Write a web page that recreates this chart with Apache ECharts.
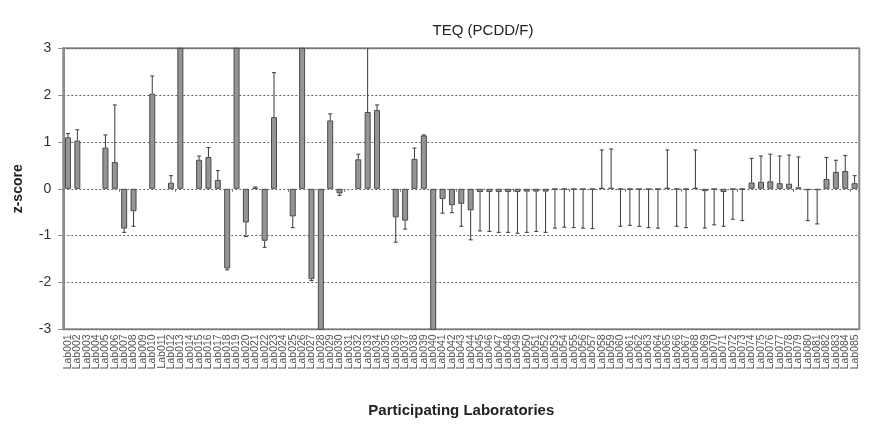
<!DOCTYPE html>
<html><head><meta charset="utf-8">
<script src="https://cdn.jsdelivr.net/npm/echarts@6/dist/echarts.min.js"></script>
<style>html,body{margin:0;padding:0;background:#fff}#c{width:869px;height:428px}</style>
</head><body><div id="c"></div>
<script>
const labs = [
 "Lab001","Lab002","Lab003","Lab004","Lab005","Lab006","Lab007","Lab008","Lab009","Lab010",
 "Lab011","Lab012","Lab013","Lab014","Lab015","Lab016","Lab017","Lab018","Lab019","Lab020",
 "Lab021","Lab022","Lab023","Lab024","Lab025","Lab026","Lab027","Lab028","Lab029","Lab030",
 "Lab031","Lab032","Lab033","Lab034","Lab035","Lab036","Lab037","Lab038","Lab039","Lab040",
 "Lab041","Lab042","Lab043","Lab044","Lab045","Lab046","Lab047","Lab048","Lab049","Lab050",
 "Lab051","Lab052","Lab053","Lab054","Lab055","Lab056","Lab057","Lab058","Lab059","Lab060",
 "Lab061","Lab062","Lab063","Lab064","Lab065","Lab066","Lab067","Lab068","Lab069","Lab070",
 "Lab071","Lab072","Lab073","Lab074","Lab075","Lab076","Lab077","Lab078","Lab079","Lab080",
 "Lab081","Lab082","Lab083","Lab084","Lab085"
];
// z-scores (values beyond +/-3 are cut off by the axis)
const zScores = [
 1.10, 1.03, null, null, 0.88, 0.57, -0.85, -0.48, null, 2.03,
 null, 0.13, 4.2, null, 0.62, 0.68, 0.19, -1.70, 4.5, -0.72,
 0.02, -1.11, 1.53, null, -0.59, 4.0, -1.93, -4.0, 1.46, -0.10,
 null, 0.63, 1.64, 1.68, null, -0.61, -0.68, 0.64, 1.14, -4.0,
 -0.22, -0.35, -0.32, -0.46, -0.07, -0.07, -0.07, -0.07, -0.07, -0.06,
 -0.06, -0.06, -0.01, -0.01, -0.01, -0.01, -0.01, 0.02, 0.02, -0.01,
 -0.01, -0.01, -0.01, -0.01, 0.02, -0.01, -0.01, 0.02, -0.05, -0.01,
 -0.07, -0.01, -0.01, 0.135, 0.15, 0.16, 0.12, 0.11, 0.03, -0.03,
 -0.03, 0.21, 0.36, 0.38, 0.12
];
// end point of each error bar (drawn away from zero)
const errorEnds = [
 1.18, 1.26, null, null, 1.15, 1.79, -0.93, -0.80, null, 2.41,
 null, 0.28, null, null, 0.70, 0.88, 0.39, -1.73, null, -1.02,
 0.04, -1.25, 2.48, null, -0.83, null, -1.96, null, 1.60, -0.14,
 null, 0.74, 3.6, 1.79, null, -1.14, -0.86, 0.87, 1.15, null,
 -0.52, -0.51, -0.80, -1.09, -0.90, -0.91, -0.93, -0.93, -0.95, -0.93,
 -0.91, -0.93, -0.84, -0.82, -0.83, -0.84, -0.85, 0.83, 0.85, -0.80,
 -0.78, -0.80, -0.83, -0.84, 0.83, -0.80, -0.83, 0.83, -0.84, -0.77,
 -0.80, -0.65, -0.68, 0.65, 0.70, 0.74, 0.70, 0.72, 0.68, -0.68,
 -0.75, 0.67, 0.61, 0.71, 0.28
];
const yMin = -3, yMax = 3, yStep = 1;

const FONT = '"Liberation Sans", Arial, sans-serif';
const errData = [];
labs.forEach((l, i) => {
  if (zScores[i] !== null && errorEnds[i] !== null) errData.push([i, zScores[i], errorEnds[i]]);
});

const chart = echarts.init(document.getElementById('c'), null, {renderer: 'canvas'});
chart.setOption({
  animation: false,
  backgroundColor: '#fff',
  title: {
    text: 'TEQ (PCDD/F)', left: 478, top: 18, textAlign: 'center',
    textStyle: {fontFamily: FONT, fontSize: 15, fontWeight: 'normal', color: '#222'}
  },
  grid: {left: 63.3, right: 9.7, top: 48.3, bottom: 98.7, show: true,
         borderColor: '#8a8a8a', borderWidth: 2, backgroundColor: 'transparent'},
  xAxis: [{
    type: 'category', data: labs, position: 'bottom',
    axisLine: {show: false, onZero: false},
    axisTick: {show: false},
    axisLabel: {interval: 0, rotate: 90, fontFamily: FONT, fontSize: 10.5, color: '#555', margin: 5},
    name: 'Participating Laboratories', nameLocation: 'middle', nameGap: 74,
    nameTextStyle: {fontFamily: FONT, fontSize: 15, fontWeight: 'bold', color: '#222'}
  }, {
    type: 'category', data: labs, position: 'top',
    axisLine: {show: false, onZero: true},
    axisTick: {show: true, inside: true, length: 3, lineStyle: {color: '#777'}},
    axisLabel: {show: false}
  }],
  yAxis: {
    type: 'value', min: yMin, max: yMax, interval: yStep,
    axisLine: {show: true, lineStyle: {color: '#8a8a8a', width: 2}},
    axisTick: {show: true, length: 5, lineStyle: {color: '#8a8a8a'}},
    axisLabel: {fontFamily: FONT, fontSize: 14, color: '#333', margin: 12},
    splitLine: {show: true, lineStyle: {color: '#666', type: [2, 2], width: 1}},
    name: 'z-score', nameLocation: 'middle', nameGap: 38,
    nameTextStyle: {fontFamily: FONT, fontSize: 14, fontWeight: 'bold', color: '#222'}
  },
  series: [{
    type: 'bar', data: zScores, xAxisIndex: 0, barWidth: 6, clip: true,
    itemStyle: {color: '#959595', borderColor: '#4a4a4a', borderWidth: 1}
  }, {
    type: 'custom', data: errData, xAxisIndex: 0, clip: true,
    encode: {x: 0, y: [1, 2]},
    renderItem: function (params, api) {
      const i = api.value(0);
      const p0 = api.coord([i, api.value(1)]);
      const p1 = api.coord([i, api.value(2)]);
      const cs = params.coordSys;
      const top = cs.y, bot = cs.y + cs.height;
      const y0 = Math.min(Math.max(p0[1], top), bot);
      const y1 = Math.min(Math.max(p1[1], top), bot);
      const st = {stroke: '#3a3a3a', lineWidth: 1};
      const ch = [{type: 'line', shape: {x1: p0[0], y1: y0, x2: p0[0], y2: y1}, style: st}];
      if (y1 === p1[1]) ch.push({type: 'line', shape: {x1: p0[0] - 2, y1: y1, x2: p0[0] + 2, y2: y1}, style: st});
      return {type: 'group', children: ch};
    }
  }]
});
</script></body></html>
